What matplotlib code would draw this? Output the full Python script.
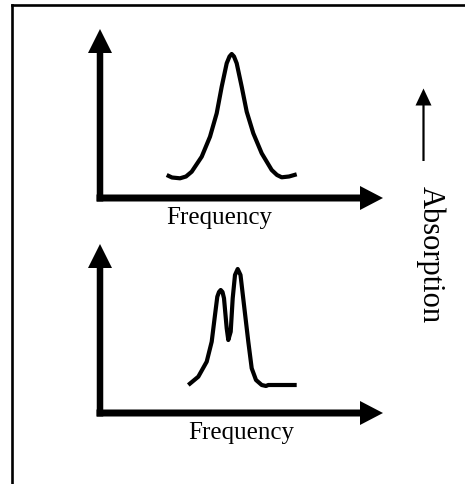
import matplotlib
matplotlib.use("Agg")
import matplotlib.pyplot as plt

# ---- data (frequency, absorption), origin at the axis corner ----
top_freq = [66.7, 72, 80, 86, 91.7, 101.7, 110, 116.7, 121.7, 126.7, 129.5, 131.7,
            134, 136.7, 141.7, 146.7, 153.3, 161.7, 171.7, 177, 181.7, 189, 196.7]
top_abs = [23, 20.5, 19.7, 21.5, 26.3, 41.3, 61.3, 84.7, 111.3, 134.7, 141.5, 144,
           141.5, 134.7, 111.3, 86.3, 64.7, 44.7, 28, 23, 20.7, 21.5, 23.7]

bot_freq = [88.3, 98.3, 106.7, 111.7, 115, 117.3, 119, 120.7, 122.5, 124, 126.7, 128.3,
            130.7, 132.7, 135, 137.7, 140.5, 144, 148.3, 151.7, 156, 161.7, 166,
            168.3, 196.7]
bot_abs = [28, 36.3, 51.3, 71.3, 98, 116.3, 121, 123, 121, 114.7, 84.7, 73,
           81.3, 114.7, 138, 144, 138, 108, 71.3, 44.7, 33, 28, 27,
           28, 28]

x_label = "Frequency"
y_label = "Absorption"

W, H = 465, 484
fig = plt.figure(figsize=(W / 100, H / 100), dpi=100)
fig.patch.set_facecolor("white")

FONT = "Liberation Serif"

# base axes in pixel coordinates (frame, side label)
base = fig.add_axes([0, 0, 1, 1])
base.set_xlim(0, W)
base.set_ylim(H, 0)
base.axis("off")
base.plot([12, W], [5, 5], color="black", lw=1.9, solid_capstyle="projecting")
base.plot([12, 12], [5, H], color="black", lw=1.9, solid_capstyle="projecting")
base.arrow(423.5, 161, 0, -72.5, width=2.2, head_width=16, head_length=17,
           length_includes_head=True, color="black", lw=0)
base.text(430, 255, y_label, rotation=-90, ha="center", va="center",
          fontsize=22, family=FONT, color="black")


def panel(corner_x, corner_y, freq, absorb, label_x):
    ax = fig.add_axes([0, 0, 1, 1])
    ax.patch.set_alpha(0)
    ax.set_xlim(-corner_x, W - corner_x)
    ax.set_ylim(-(H - corner_y), corner_y)
    ax.axis("off")
    # y axis arrow
    ax.arrow(0, -3.5, 0, 172.5, width=6.5, head_width=24, head_length=24,
             length_includes_head=True, color="black", lw=0)
    # x axis arrow
    ax.arrow(-3.5, 0, 286.5, 0, width=7, head_width=24, head_length=23,
             length_includes_head=True, color="black", lw=0)
    ax.plot(freq, absorb, color="black", lw=3, solid_joinstyle="round",
            solid_capstyle="butt")
    ax.text(label_x, -20, x_label, ha="center", va="center", fontsize=18,
            family=FONT, color="black")
    return ax


panel(100, 198, top_freq, top_abs, 119)
panel(100, 413, bot_freq, bot_abs, 141)

fig.savefig("out.png", dpi=100, facecolor="white")
